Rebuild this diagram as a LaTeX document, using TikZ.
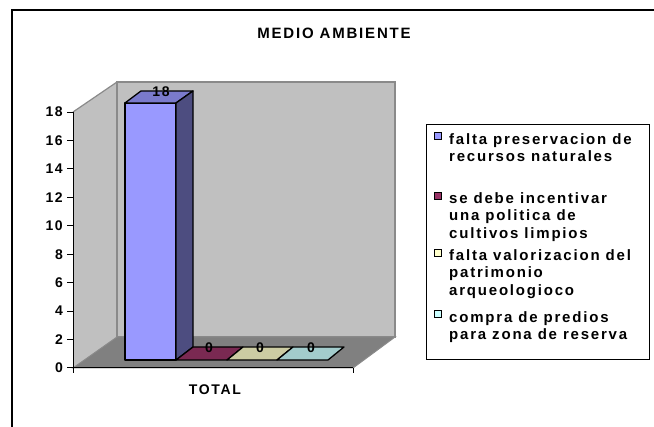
\documentclass[tikz,border=0pt]{standalone}
\usepackage{fontspec}
\setmainfont{Liberation Sans}[LetterSpace=12]
\definecolor{wallgray}{HTML}{C0C0C0}
\definecolor{floorgray}{HTML}{808080}
\definecolor{edgegray}{HTML}{8A8A8A}
\definecolor{barblue}{HTML}{9999FF}
\definecolor{bartopblue}{HTML}{7A7ACC}
\definecolor{barsideblue}{HTML}{4D4D80}
\definecolor{legmaroon}{HTML}{993366}
\definecolor{legtan}{HTML}{FFFFCC}
\definecolor{legteal}{HTML}{CCFFFF}
\definecolor{maroontop}{HTML}{7A2952}
\definecolor{tantop}{HTML}{CCCCA3}
\definecolor{tealtop}{HTML}{A3CCCC}
\tikzset{
  lbl/.style={font=\bfseries\fontsize{14}{16}\selectfont, inner sep=0pt},
  legtext/.style={font=\bfseries\fontsize{15}{17.5}\selectfont, inner sep=0pt, align=left, anchor=north west},
  legkey/.style={draw=black, line width=1pt, minimum size=7pt, inner sep=0pt},
  barline/.style={draw=black, line width=1.3pt, line join=round}
}
\begin{document}
\begin{tikzpicture}[x=1pt, y=-1pt]
        \useasboundingbox (0,0) rectangle (654,427);
        \draw[line width=2pt] (12,427) -- (12,10) -- (654,10);
        \node[lbl, font=\bfseries\fontsize{15}{16}\selectfont] (title) at (334,33) {MEDIO AMBIENTE};

        \coordinate (FL) at (73,368);
        \coordinate (BL) at (117,337);
        \coordinate (BR) at (395,337);
        \coordinate (FR) at (353,368);
        \coordinate (TL) at (117,82);
        \coordinate (TF) at (73,112);

        \fill[wallgray] (TF) -- (TL) -- (BL) -- (FL) -- cycle;
        \draw[edgegray, line width=1.2pt] (TF) -- (TL);
        \filldraw[fill=wallgray, draw=edgegray, line width=2pt] (TL) rectangle (BR);
        \filldraw[fill=floorgray, draw=edgegray, line width=1pt] (FL) -- (BL) -- (BR) -- (FR) -- cycle;

        \draw[line width=1pt] (TF) -- (FL) -- (FR);
        \draw[line width=1pt] (FL) -- +(0,5);
        \draw[line width=1pt] (FR) -- +(0,5);
        \foreach \v [count=\k from 0] in {0,2,...,18} {
          \draw[line width=1pt] (67,368-\k*28.44) -- (73,368-\k*28.44);
          \node[lbl, anchor=east] (tick\v) at (63,368-\k*28.44) {\v};
        }

        \filldraw[barline, fill=barblue] (125,103) rectangle (176,360);
        \filldraw[barline, fill=bartopblue] (125,103) -- (141,91) -- (193,91) -- (176,103) -- cycle;
        \filldraw[barline, fill=barsideblue] (176,103) -- (193,91) -- (193,347) -- (176,360) -- cycle;
        \filldraw[barline, fill=maroontop] (176,360) -- (193,347) -- (243,347) -- (227,360) -- cycle;
        \filldraw[barline, fill=tantop] (227,360) -- (243,347) -- (293,347) -- (277,360) -- cycle;
        \filldraw[barline, fill=tealtop] (277,360) -- (293,347) -- (344,347) -- (328,360) -- cycle;

        \node[lbl] (val18) at (161,92) {18};
        \node[lbl] (valA) at (209,348) {0};
        \node[lbl] (valB) at (260,348) {0};
        \node[lbl] (valC) at (311,348) {0};
        \node[lbl] (total) at (215,390) {TOTAL};

        \draw[line width=1pt] (426,125) rectangle (649,360);
        \node[legkey, fill=barblue] (keyA) at (438,136) {};
        \node[legkey, fill=legmaroon] (keyB) at (438,196) {};
        \node[legkey, fill=legtan] (keyC) at (438,253) {};
        \node[legkey, fill=legteal] (keyD) at (438,314) {};
        \node[legtext] (itemA) at (449,133) {falta preservacion de\\recursos naturales};
        \node[legtext] (itemB) at (449,192) {se debe incentivar\\una politica de\\cultivos limpios};
        \node[legtext] (itemC) at (449,249) {falta valorizacion del\\patrimonio\\arqueologioco};
        \node[legtext] (itemD) at (449,311) {compra de predios\\para zona de reserva};
      \end{tikzpicture}
\end{document}
